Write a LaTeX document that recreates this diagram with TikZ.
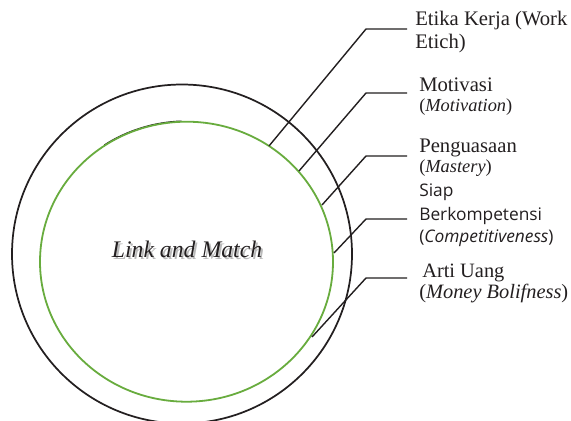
\documentclass[tikz,border=0pt]{standalone}
\usepackage{fontspec}
\setmainfont{Liberation Serif}
\newfontfamily\sansf{Open Sans}
\definecolor{inkblack}{RGB}{35,31,32}
\definecolor{ringgreen}{RGB}{104,172,62}
\begin{document}
\begin{tikzpicture}[x=0.75pt,y=-0.75pt,
  ring/.style={draw=inkblack,line width=1.3pt},
  gring/.style={draw=ringgreen,line width=1.35pt},
  conn/.style={draw=inkblack,line width=1.05pt,line join=miter},
  lbl/.style={anchor=base west,inner sep=0pt,text=inkblack,font=\fontsize{15.5}{18}\selectfont},
  sub/.style={anchor=base west,inner sep=0pt,text=inkblack,font=\fontsize{13.8}{16}\selectfont},
  big/.style={anchor=base west,inner sep=0pt,text=inkblack,font=\fontsize{15.3}{19}\selectfont},
  sans/.style={anchor=base west,inner sep=0pt,text=inkblack,font=\sansf\fontsize{13}{16}\selectfont}]
\useasboundingbox (0,0) rectangle (571,421);
\fill[white] (0,0) rectangle (571,421);
% rings
\draw[ring] (182,254) ellipse [x radius=170, y radius=169.5];
\draw[inkblack,line width=1.2pt] (186.5,261.7) ++(-124:146.9 and 140.5) arc (-124:-92:146.9 and 140.5);
\draw[gring] (186.5,261.7) ellipse [x radius=146.5, y radius=140];
% centre title with shadow
\node[anchor=base,inner sep=0pt,text=black!45,opacity=0.6,font=\fontsize{17.8}{20}\selectfont\itshape] (titleshadow) at (189,259) {Link and Match};
\node[anchor=base,inner sep=0pt,text=inkblack,font=\fontsize{17.8}{20}\selectfont\itshape] (title) at (187,257) {Link and Match};
% labels
\node[lbl] (l1a) at (415,26) {Etika Kerja (Work};
\node[lbl] (l1b) at (415,48) {Etich)};
\node[lbl] (l2a) at (419,91) {Motivasi};
\node[sub] (l2b) at (419,111) {(\textit{Motivation})};
\node[lbl] (l3a) at (419,152) {Penguasaan};
\node[sub] (l3b) at (419,172) {(\textit{Mastery})};
\node[sans] (l4a) at (419,196) {Siap};
\node[sans] (l4b) at (419,220) {Berkompetensi};
\node[sans] (l4c) at (419,242) {(\textit{Competitiveness})};
\node[big] (l5a) at (422,277) {Arti Uang};
\node[big] (l5b) at (419,298) {(\textit{Money Bolifness})};
% connector points
\coordinate (s1) at (269,146); \coordinate (k1) at (366,29); \coordinate (e1) at (407,29);
\coordinate (s2) at (299,171); \coordinate (k2) at (366,93); \coordinate (e2) at (407,93);
\coordinate (s3) at (322,205); \coordinate (k3) at (366,156); \coordinate (e3) at (407,156);
\coordinate (s4) at (334,253); \coordinate (k4) at (366,219); \coordinate (e4) at (407,219);
\coordinate (s5) at (312,337); \coordinate (k5) at (366,278); \coordinate (e5) at (407,278);
\draw[conn] (s1) -- (k1) -- (e1);
\draw[conn] (s2) -- (k2) -- (e2);
\draw[conn] (s3) -- (k3) -- (e3);
\draw[conn] (s4) -- (k4) -- (e4);
\draw[conn] (s5) -- (k5) -- (e5);
\end{tikzpicture}
\end{document}
